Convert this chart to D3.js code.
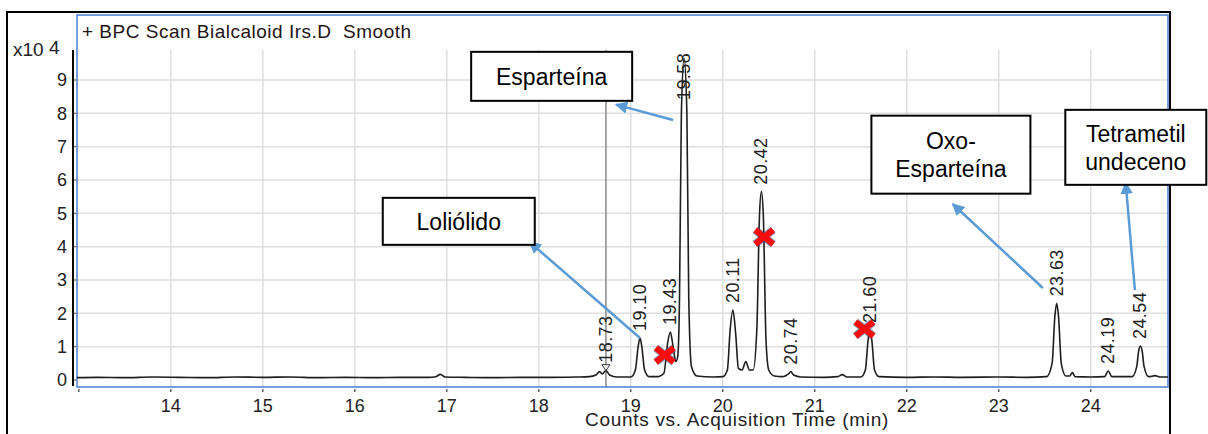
<!DOCTYPE html>
<html>
<head>
<meta charset="utf-8">
<script src="https://cdn.jsdelivr.net/npm/d3@7"></script>
<style>
  body { margin: 0; background: #fff; }
  svg { display: block; font-family: Arial, "Liberation Sans", sans-serif; }
</style>
</head>
<body>
<div id="chart"></div>
<script>
// trace: [time (min), counts x10^4]
const trace = [
  [12.98, 0.07], [13.2, 0.08], [13.5, 0.07], [13.8, 0.09], [14.1, 0.08], [14.4, 0.07],
  [14.7, 0.09], [15.0, 0.08], [15.3, 0.09], [15.6, 0.07], [15.9, 0.08], [16.2, 0.07],
  [16.5, 0.08], [16.8, 0.08], [16.88, 0.1], [16.93, 0.17], [16.98, 0.09], [17.2, 0.08],
  [17.5, 0.07], [17.8, 0.08], [18.1, 0.08], [18.4, 0.09], [18.55, 0.1], [18.62, 0.15],
  [18.66, 0.25], [18.69, 0.18], [18.73, 0.28], [18.77, 0.15], [18.85, 0.09], [19.0, 0.09],
  [19.05, 0.3], [19.08, 1.0], [19.10, 1.26], [19.12, 1.0], [19.15, 0.3], [19.2, 0.1],
  [19.3, 0.1], [19.36, 0.2], [19.40, 1.1], [19.43, 1.44], [19.46, 1.0], [19.49, 0.55],
  [19.51, 0.7], [19.53, 2.5], [19.55, 8.0], [19.58, 9.65], [19.61, 8.0], [19.63, 2.5],
  [19.66, 0.4], [19.72, 0.12], [19.9, 0.09], [20.0, 0.1], [20.05, 0.3], [20.08, 1.5],
  [20.11, 2.1], [20.14, 1.4], [20.17, 0.35], [20.21, 0.3], [20.25, 0.55], [20.29, 0.3],
  [20.33, 0.3], [20.37, 1.5], [20.40, 5.0], [20.42, 5.65], [20.44, 5.0], [20.47, 1.2],
  [20.5, 0.3], [20.56, 0.12], [20.65, 0.1], [20.72, 0.2], [20.74, 0.25], [20.77, 0.15],
  [20.85, 0.09], [21.1, 0.08], [21.25, 0.1], [21.30, 0.16], [21.35, 0.09], [21.5, 0.09],
  [21.55, 0.3], [21.58, 1.2], [21.60, 1.5], [21.62, 1.2], [21.65, 0.3], [21.7, 0.1],
  [22.0, 0.08], [22.3, 0.09], [22.6, 0.08], [23.0, 0.09], [23.3, 0.08], [23.52, 0.1],
  [23.58, 0.5], [23.61, 1.9], [23.63, 2.3], [23.65, 1.9], [23.68, 0.5], [23.73, 0.12],
  [23.77, 0.12], [23.80, 0.22], [23.83, 0.1], [24.0, 0.09], [24.15, 0.1], [24.19, 0.27],
  [24.23, 0.1], [24.45, 0.1], [24.50, 0.4], [24.52, 0.85], [24.54, 1.02], [24.56, 0.85],
  [24.58, 0.4], [24.63, 0.1], [24.70, 0.13], [24.75, 0.09], [24.86, 0.09]
];

// labelled peaks: [time, apex height]
const peaks = [
  [18.73, 0.28], [19.10, 1.26], [19.43, 1.44], [19.58, 9.65], [20.11, 2.1],
  [20.42, 5.65], [20.74, 0.25], [21.60, 1.5], [23.63, 2.3], [24.19, 0.27], [24.54, 1.02]
];

// red crosses (time, value)
const crosses = [[19.37, 0.75], [20.45, 4.29], [21.54, 1.53]];

// callouts: text lines, box centre, arrow start -> arrow tip (data units)
const callouts = [
  { lines: ["Esparteína"], cx: 18.14, cy: 9.11, w: 161, h: 49, from: [19.46, 7.8], to: [18.84, 8.26] },
  { lines: ["Loliólido"], cx: 17.13, cy: 4.76, w: 152, h: 47, from: [19.10, 1.26], to: [17.90, 4.14] },
  { lines: ["Oxo-", "Esparteína"], cx: 22.48, cy: 6.76, w: 159, h: 78, from: [23.48, 2.76], to: [22.50, 5.28] },
  { lines: ["Tetrametil", "undeceno"], cx: 24.49, cy: 6.98, w: 141, h: 75, from: [24.48, 2.7], to: [24.38, 5.92] }
];

const xTicks = [13, 14, 15, 16, 17, 18, 19, 20, 21, 22, 23, 24];
const yTicks = [0, 1, 2, 3, 4, 5, 6, 7, 8, 9];
const cursorTime = 18.73;

const W = 1208, H = 434;
const plot = { left: 77, top: 15, right: 1168, bottom: 387 };

const x = d3.scaleLinear().domain([12.98, 24.84]).range([plot.left, plot.right]);
const y = d3.scaleLinear().domain([0, 9.9]).range([380, 50]);

const svg = d3.select("#chart").append("svg").attr("width", W).attr("height", H);

// outer frame
svg.append("rect").attr("x", 7).attr("y", 12).attr("width", 1163).attr("height", 500)
  .attr("fill", "none").attr("stroke", "#000").attr("stroke-width", 2);

svg.append("defs").append("clipPath").attr("id", "clip")
  .append("rect").attr("x", plot.left).attr("y", plot.top)
  .attr("width", plot.right - plot.left).attr("height", plot.bottom - plot.top);

// grid
const grid = svg.append("g").attr("stroke", "#dedede").attr("stroke-width", 1.5);
grid.selectAll(".gx").data(xTicks.filter(d => d > 13)).join("line")
  .attr("x1", d => x(d)).attr("x2", d => x(d)).attr("y1", 50).attr("y2", plot.bottom);
grid.selectAll(".gy").data(yTicks.filter(d => d > 0)).join("line")
  .attr("x1", plot.left).attr("x2", plot.right).attr("y1", d => y(d)).attr("y2", d => y(d));

// cursor line
svg.append("line").attr("x1", x(cursorTime)).attr("x2", x(cursorTime))
  .attr("y1", 50).attr("y2", plot.bottom).attr("stroke", "#8a8a8a").attr("stroke-width", 1.5);

// plot frame
svg.append("rect").attr("x", plot.left).attr("y", plot.top)
  .attr("width", plot.right - plot.left).attr("height", plot.bottom - plot.top)
  .attr("fill", "none").attr("stroke", "#4a7fd4").attr("stroke-width", 1.5);

// title
svg.append("text").attr("x", 82).attr("y", 38).attr("font-size", 19)
  .attr("letter-spacing", 0.5).style("white-space", "pre").attr("fill", "#241414")
  .text("+ BPC Scan Bialcaloid Irs.D  Smooth");

// y axis
svg.append("line").attr("x1", 73).attr("x2", 73).attr("y1", 50).attr("y2", 386)
  .attr("stroke", "#000").attr("stroke-width", 2);
const yg = svg.append("g");
yg.selectAll("line").data(yTicks).join("line")
  .attr("x1", 74).attr("x2", 77).attr("y1", d => y(d)).attr("y2", d => y(d))
  .attr("stroke", "#888").attr("stroke-width", 1.5);
yg.selectAll("text").data(yTicks).join("text")
  .attr("x", 67).attr("y", d => y(d)).attr("dy", "0.36em").attr("text-anchor", "end")
  .attr("font-size", 18).attr("fill", "#222").text(d => d);
const mult = svg.append("text").attr("x", 13).attr("y", 56).attr("font-size", 19).attr("fill", "#222")
  .style("white-space", "pre");
mult.append("tspan").text("x10 ");
mult.append("tspan").attr("dy", -2).text("4");

// x axis
const xg = svg.append("g");
xg.selectAll("line").data(xTicks).join("line")
  .attr("x1", d => x(d)).attr("x2", d => x(d)).attr("y1", 389).attr("y2", 392)
  .attr("stroke", "#666").attr("stroke-width", 1.5);
xg.selectAll("text").data(xTicks.filter(d => d > 13)).join("text")
  .attr("x", d => x(d)).attr("y", 412).attr("text-anchor", "middle")
  .attr("font-size", 18).attr("fill", "#222").text(d => d);
svg.append("text").attr("x", 737).attr("y", 426).attr("text-anchor", "middle")
  .attr("font-size", 19).attr("letter-spacing", 0.7).attr("fill", "#222")
  .text("Counts vs. Acquisition Time (min)");

// trace
const line = d3.line().x(d => x(d[0])).y(d => y(d[1])).curve(d3.curveMonotoneX);
svg.append("path").datum(trace).attr("clip-path", "url(#clip)")
  .attr("d", line).attr("fill", "none").attr("stroke", "#1e1e1e").attr("stroke-width", 1.6);

// marker triangle at cursor peak
svg.append("path")
  .attr("d", `M${x(cursorTime) - 4},${y(0.28) - 6} L${x(cursorTime) + 4},${y(0.28) - 6} L${x(cursorTime)},${y(0.28)} Z`)
  .attr("fill", "#fff").attr("stroke", "#333").attr("stroke-width", 1);

// peak labels
svg.append("g").selectAll("text").data(peaks).join("text")
  .attr("transform", d => {
    const ys = Math.max(y(d[1]) - (d[0] === cursorTime ? 8 : 7), 100);
    return `translate(${x(d[0]) + 6},${ys}) rotate(-90)`;
  })
  .attr("font-size", 18).attr("letter-spacing", 0.4).attr("fill", "#222").text(d => d[0].toFixed(2));

// crosses
const cg = svg.append("g");
crosses.forEach(([t, v]) => {
  const cx = x(t), cy = y(v), r = 9;
  const d = `M${cx - r},${cy - r * 0.8} L${cx + r},${cy + r * 0.8} M${cx - r},${cy + r * 0.8} L${cx + r},${cy - r * 0.8}`;
  cg.append("path").attr("d", d).attr("stroke", "#3a4a7a").attr("stroke-width", 8).attr("opacity", 0.6);
  cg.append("path").attr("d", d).attr("stroke", "#ff0a0a").attr("stroke-width", 6);
});

// callouts
const arrowBlue = "#5b9bd5";
svg.append("defs").append("marker").attr("id", "head")
  .attr("viewBox", "0 0 10 10").attr("refX", 9).attr("refY", 5)
  .attr("markerWidth", 5).attr("markerHeight", 5).attr("orient", "auto")
  .attr("markerUnits", "strokeWidth")
  .append("path").attr("d", "M0,0 L10,5 L0,10 Z").attr("fill", arrowBlue);

const cgr = svg.append("g");
callouts.forEach(c => {
  cgr.append("line")
    .attr("x1", x(c.from[0])).attr("y1", y(c.from[1]))
    .attr("x2", x(c.to[0])).attr("y2", y(c.to[1]))
    .attr("stroke", arrowBlue).attr("stroke-width", 2.5).attr("marker-end", "url(#head)");
  const bx = x(c.cx) - c.w / 2, by = y(c.cy) - c.h / 2;
  cgr.append("rect").attr("x", bx).attr("y", by).attr("width", c.w).attr("height", c.h)
    .attr("fill", "#fff").attr("stroke", "#000").attr("stroke-width", 2);
  const lh = 28;
  c.lines.forEach((s, i) => {
    cgr.append("text").attr("x", x(c.cx))
      .attr("y", y(c.cy) + (i - (c.lines.length - 1) / 2) * lh).attr("dy", "0.36em")
      .attr("text-anchor", "middle").attr("font-size", 23).attr("fill", "#000").text(s);
  });
});
</script>
</body>
</html>
